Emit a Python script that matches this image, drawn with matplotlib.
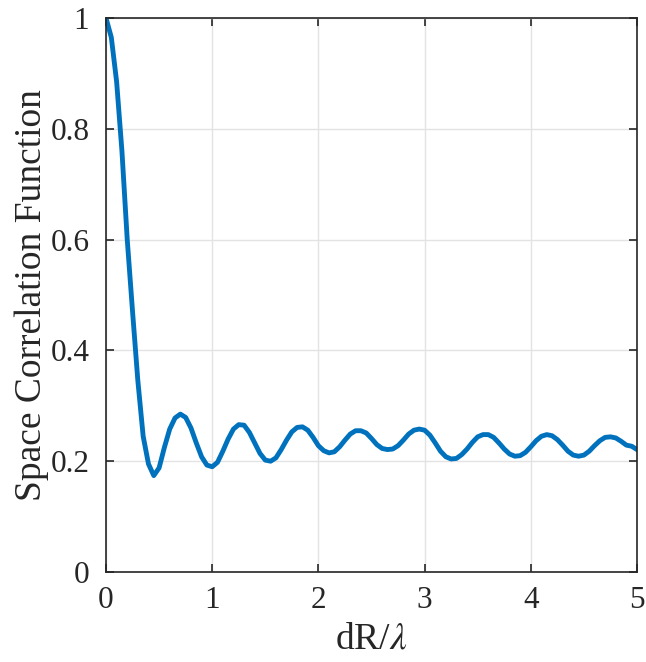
import numpy as np
import matplotlib
matplotlib.use("Agg")
from matplotlib import pyplot as plt

plt.rcParams['font.family'] = ['Liberation Serif', 'DejaVu Serif']
plt.rcParams['mathtext.fontset'] = 'stix'

# dR/lambda sampled every 0.05
dr = [0.00, 0.05, 0.10, 0.15, 0.20, 0.25, 0.30, 0.35, 0.40, 0.45,
      0.50, 0.55, 0.60, 0.65, 0.70, 0.75, 0.80, 0.85, 0.90, 0.95,
      1.00, 1.05, 1.10, 1.15, 1.20, 1.25, 1.30, 1.35, 1.40, 1.45,
      1.50, 1.55, 1.60, 1.65, 1.70, 1.75, 1.80, 1.85, 1.90, 1.95,
      2.00, 2.05, 2.10, 2.15, 2.20, 2.25, 2.30, 2.35, 2.40, 2.45,
      2.50, 2.55, 2.60, 2.65, 2.70, 2.75, 2.80, 2.85, 2.90, 2.95,
      3.00, 3.05, 3.10, 3.15, 3.20, 3.25, 3.30, 3.35, 3.40, 3.45,
      3.50, 3.55, 3.60, 3.65, 3.70, 3.75, 3.80, 3.85, 3.90, 3.95,
      4.00, 4.05, 4.10, 4.15, 4.20, 4.25, 4.30, 4.35, 4.40, 4.45,
      4.50, 4.55, 4.60, 4.65, 4.70, 4.75, 4.80, 4.85, 4.90, 4.95,
      5.00]

corr = [1.000, 0.965, 0.885, 0.760, 0.600, 0.470, 0.345, 0.245, 0.195, 0.174,
        0.188, 0.225, 0.258, 0.278, 0.285, 0.279, 0.260, 0.233, 0.208, 0.193,
        0.190, 0.198, 0.218, 0.240, 0.258, 0.266, 0.265, 0.252, 0.233, 0.214,
        0.202, 0.200, 0.206, 0.221, 0.238, 0.253, 0.261, 0.262, 0.256, 0.243,
        0.228, 0.219, 0.215, 0.217, 0.226, 0.238, 0.249, 0.255, 0.255, 0.251,
        0.241, 0.230, 0.223, 0.221, 0.222, 0.228, 0.238, 0.249, 0.256, 0.258,
        0.256, 0.247, 0.233, 0.218, 0.208, 0.204, 0.205, 0.212, 0.222, 0.234,
        0.244, 0.248, 0.248, 0.243, 0.233, 0.222, 0.213, 0.209, 0.210, 0.216,
        0.226, 0.237, 0.245, 0.248, 0.246, 0.239, 0.229, 0.218, 0.211, 0.209,
        0.211, 0.218, 0.228, 0.237, 0.243, 0.244, 0.242, 0.236, 0.229, 0.227,
        0.221]

xticks = [0, 1, 2, 3, 4, 5]
yticks = [0, 0.2, 0.4, 0.6, 0.8, 1]
ytick_labels = ["0", "0.2", "0.4", "0.6", "0.8", "1"]

fig = plt.figure(figsize=(6.46, 6.62), dpi=100)
ax = fig.add_axes([106/646, 1-572/662, 531/646, 554/662])

ax.plot(dr, corr, color='#0072BD', linewidth=3.5)

ax.set_xlim(0, 5)
ax.set_ylim(0, 1)
ax.set_xticks(xticks)
ax.set_yticks(yticks)
ax.set_yticklabels(ytick_labels)
ax.grid(True, color='#e3e3e3', linewidth=1)
ax.set_axisbelow(True)
ax.tick_params(direction='in', length=6, width=1.2, top=True, right=True,
               labelsize=22.5, colors='#262626')
ax.tick_params(axis='x', pad=10)
ax.tick_params(axis='y', pad=12)
for s in ax.spines.values():
    s.set_color('#262626')
    s.set_linewidth(1.2)

ax.set_xlabel(r'dR/$\lambda$', fontsize=27, color='#262626', labelpad=5)
ax.set_ylabel('Space Correlation Function', fontsize=27, color='#262626', labelpad=1)

fig.savefig('out.png', dpi=100)
